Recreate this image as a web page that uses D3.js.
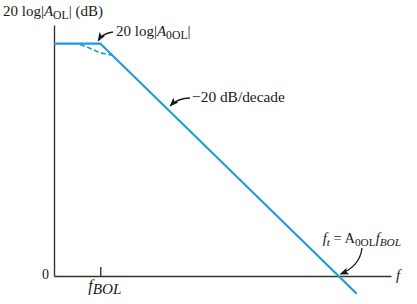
<!DOCTYPE html>
<html>
<head>
<meta charset="utf-8">
<script src="https://cdn.jsdelivr.net/npm/d3@7"></script>
<style>
  body { margin: 0; background: #fff; }
  svg { display: block; }
  text { font-family: "Liberation Serif", "Times New Roman", serif; fill: #1a1a1a; }
</style>
</head>
<body>
<div id="chart"></div>
<script>
let width = 417;
let height = 304;

// asymptotic Bode magnitude (frequency relative to f_BOL, gain in dB)
const asymFreq = [0.107, 1, 1e5, 2.4e5];
const asymGain = [100, 100, 0, -7.6];

// actual response near the break, drawn dashed
const realFreq = [0.377, 0.528, 0.741, 1.04, 1.35, 1.77];
const realGain = [99.6, 98.5, 97.2, 96.0, 95.5, 95.0];

const xTicks = [1];
const yTicks = [0];
const yTickLabels = ["0"];

const blue = "#1f9ad9";
const ink = "#1a1a1a";

let svg = d3.select("#chart")
            .append("svg")
            .attr("width", width)
            .attr("height", height);

let xScale = d3.scaleLog()
               .domain([0.107, 1.26e6])
               .range([54, 391]);

let yScale = d3.scaleLinear()
               .domain([0, 108])
               .range([276, 25]);

// arrow head
svg.append("defs")
   .append("marker")
   .attr("id", "arrow")
   .attr("markerUnits", "userSpaceOnUse")
   .attr("markerWidth", 9)
   .attr("markerHeight", 7)
   .attr("refX", 8)
   .attr("refY", 3.5)
   .attr("orient", "auto")
   .append("path")
   .attr("d", "M0,0 L9,3.5 L0,7 L2,3.5 Z")
   .attr("fill", ink);

// axes
let xAxis = d3.axisBottom(xScale)
              .tickValues(xTicks)
              .tickSizeInner(-9)
              .tickSizeOuter(0)
              .tickFormat("");

svg.append("g")
   .attr("id", "x-axis")
   .attr("transform", `translate(0, ${yScale(0)})`)
   .call(xAxis);

let yAxis = d3.axisLeft(yScale)
              .tickValues(yTicks)
              .tickSize(0)
              .tickPadding(5)
              .tickFormat((d, i) => yTickLabels[i]);

svg.append("g")
   .attr("id", "y-axis")
   .attr("transform", `translate(${xScale.range()[0]}, 0)`)
   .call(yAxis);

svg.selectAll("#x-axis path, #x-axis line, #y-axis path")
   .attr("stroke", "#333")
   .attr("stroke-width", 1.4);

svg.selectAll("#y-axis text")
   .attr("font-family", "Liberation Serif, serif")
   .attr("font-size", 14)
   .attr("dy", "0.2em")
   .attr("fill", ink);

// curves
svg.append("path")
   .datum(realFreq.map((f, i) => [f, realGain[i]]))
   .attr("d", d3.line().x(d => xScale(d[0])).y(d => yScale(d[1])).curve(d3.curveMonotoneX))
   .attr("fill", "none")
   .attr("stroke", blue)
   .attr("stroke-width", 1.6)
   .attr("stroke-dasharray", "5,2.5");

svg.append("path")
   .datum(asymFreq.map((f, i) => [f, asymGain[i]]))
   .attr("d", d3.line().x(d => xScale(d[0])).y(d => yScale(d[1])))
   .attr("fill", "none")
   .attr("stroke", blue)
   .attr("stroke-width", 2.1);

// rich text helper: parts are [text, italic, sub]
function label(x, y, parts, size, anchor, subRatio) {
  let ratio = subRatio || 0.78;
  let t = svg.append("text")
             .attr("x", x)
             .attr("y", y)
             .attr("font-size", size)
             .attr("text-anchor", anchor || "start");
  let shifted = false;
  parts.forEach(p => {
    let s = t.append("tspan").text(p[0]);
    if (p[1]) s.attr("font-style", "italic");
    if (p[2]) {
      s.attr("font-size", size * ratio);
      if (!shifted) { s.attr("dy", 3); shifted = true; }
    } else if (shifted) {
      s.attr("dy", -3);
      shifted = false;
    }
  });
  return t;
}

label(3, 16, [["20 log|"], ["A", true], ["OL", false, true], ["| (dB)"]], 15);
label(116, 36, [["20 log|"], ["A", true], ["0OL", false, true], ["|"]], 15);
label(192, 102, [["\u221220 dB/decade"]], 15.4);
label(401, 243, [["f", true], ["t", true, true], [" = A"], ["0OL", false, true], ["f", true], ["BOL", true, true]], 14.5, "end");
label(396, 280, [["f", true]], 15);
label(xScale(1) - 12, 291, [["f", true], ["BOL", true, true]], 16, "start", 0.95);

// annotation arrows
function arrow(x0, y0, cx, cy, x1, y1) {
  svg.append("path")
     .attr("d", `M${x0},${y0} Q${cx},${cy} ${x1},${y1}`)
     .attr("fill", "none")
     .attr("stroke", ink)
     .attr("stroke-width", 1.3)
     .attr("marker-end", "url(#arrow)");
}

let bx = xScale(1), by = yScale(100);
arrow(113, 32, 103, 33, bx - 2, by - 3);

let sf = 28, sx = xScale(sf), sy = yScale(100 - 20 * Math.log10(sf));
arrow(190, 98, 178, 98, sx + 1, sy - 5);

let tx = xScale(1e5), ty = yScale(0);
arrow(362, 248, 360, 266, tx + 2, ty - 2);
</script>
</body>
</html>
